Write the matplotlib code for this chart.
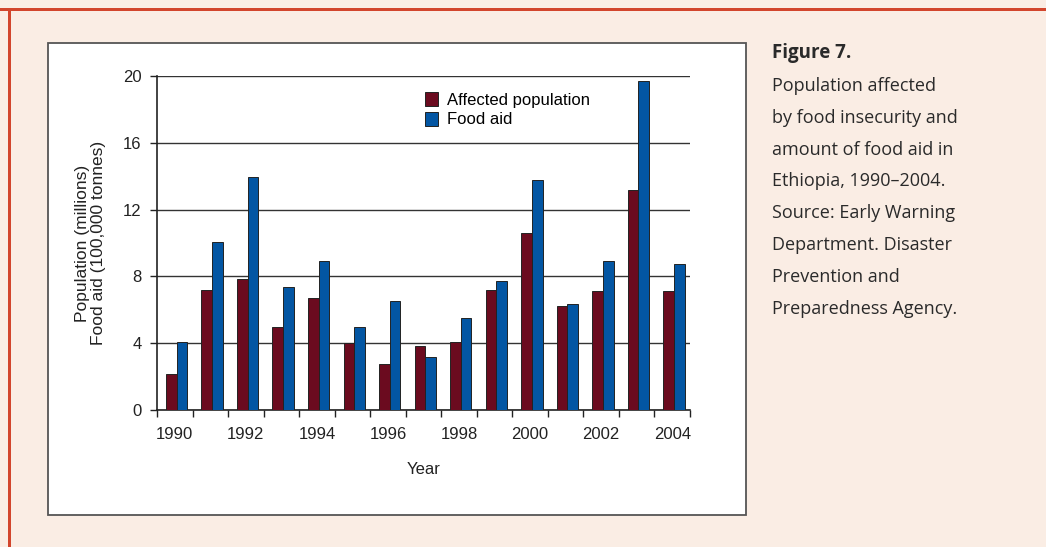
import matplotlib
matplotlib.use("Agg")
import matplotlib.pyplot as plt
from matplotlib.patches import Rectangle, Patch

years = list(range(1990, 2005))
affected = [2.15, 7.2, 7.85, 5.0, 6.7, 4.0, 2.75, 3.85, 4.05, 7.2, 10.6, 6.2, 7.15, 13.2, 7.15]
food_aid = [4.05, 10.05, 13.95, 7.35, 8.95, 5.0, 6.5, 3.15, 5.5, 7.75, 13.8, 6.35, 8.95, 19.7, 8.75]
y_ticks = [0, 4, 8, 12, 16, 20]
caption_title = "Figure 7."
caption_lines = [
    "Population affected",
    "by food insecurity and",
    "amount of food aid in",
    "Ethiopia, 1990\u20132004.",
    "Source: Early Warning",
    "Department. Disaster",
    "Prevention and",
    "Preparedness Agency.",
]

W, H = 1046, 547
RED = "#6b0b1f"
BLUE = "#0356a3"
BEIGE = "#faede4"

plt.rcParams['font.family'] = ['Liberation Sans', 'DejaVu Sans']

fig = plt.figure(figsize=(W / 100, H / 100), dpi=100, facecolor=BEIGE)

def px(x, y, w, h):
    # pixel box (top-left origin) -> figure fraction
    return [x / W, 1 - (y + h) / H, w / W, h / H]

# frame: red border top/left, white panel behind the axes
fig.patches.append(Rectangle((0, 1 - 10.5 / H), 1, 3 / H, transform=fig.transFigure,
                             facecolor="#d2452c", edgecolor="none", zorder=-2))
fig.patches.append(Rectangle((7.5 / W, 0), 3 / W, 1 - 7.5 / H, transform=fig.transFigure,
                             facecolor="#d2452c", edgecolor="none", zorder=-2))
b = px(48, 43, 698, 472)
fig.patches.append(Rectangle((b[0], b[1]), b[2], b[3], transform=fig.transFigure,
                             facecolor="white", edgecolor="#555555", linewidth=1.3, zorder=-1))

ax = fig.add_axes(px(157, 76, 533, 334))
ax.set_facecolor("none")
ax.set_zorder(2)

xs = list(range(len(years)))
ax.bar([x - 0.1 for x in xs], affected, width=0.3, color=RED, edgecolor="#222222", linewidth=0.7, zorder=3)
ax.bar([x + 0.2 for x in xs], food_aid, width=0.3, color=BLUE, edgecolor="#222222", linewidth=0.7, zorder=3)

ax.set_xlim(-0.5, len(years) - 0.5)
ax.set_ylim(0, 20)
ax.set_yticks(y_ticks)
ax.grid(axis="y", color="#333333", linewidth=1, zorder=0)
ax.tick_params(axis="y", direction="out", length=5, width=1, labelsize=12, pad=6, colors="#222222")

ax.set_xticks([x - 0.5 for x in xs] + [len(years) - 0.5])
ax.set_xticklabels([])
ax.set_xticks([x for x in xs if years[x] % 2 == 0], minor=True)
ax.set_xticklabels([str(years[x]) for x in xs if years[x] % 2 == 0], minor=True)
ax.tick_params(axis="x", which="major", direction="out", length=5, width=1, colors="#222222")
ax.tick_params(axis="x", which="minor", length=0, labelsize=12, pad=12, colors="#222222")

for s in ["top", "right"]:
    ax.spines[s].set_visible(False)
for s in ["left", "bottom"]:
    ax.spines[s].set_color("#222222")
    ax.spines[s].set_linewidth(1.2)

ax.set_ylabel("Population (millions)\nFood aid (100,000 tonnes)", fontsize=12.5, linespacing=1.15, color="#222222")
ax.yaxis.set_label_coords(-0.095, 0.5)
ax.set_xlabel("Year", fontsize=12, color="#222222")
ax.xaxis.set_label_coords(0.5, -0.155)

handles = [Patch(facecolor=RED, edgecolor="#222222", linewidth=0.7),
           Patch(facecolor=BLUE, edgecolor="#222222", linewidth=0.7)]
leg = fig.legend(handles, ["Affected population", "Food aid"], loc="upper left",
                 bbox_to_anchor=(425 / W, 1 - 92 / H), frameon=False, fontsize=12,
                 handlelength=0.8, handleheight=0.9, handletextpad=0.5, labelspacing=0.25,
                 borderpad=0, borderaxespad=0)
leg.set_zorder(5)

cap_font = ['Open Sans', 'DejaVu Sans']
fig.text(772 / W, 1 - 53 / H, caption_title, fontsize=13.5, fontweight="bold", family=cap_font,
         va="center", ha="left", color="#2a2a2a")
for i, line in enumerate(caption_lines):
    fig.text(772 / W, 1 - (86 + i * 31.8) / H, line, fontsize=13, family=cap_font,
             va="center", ha="left", color="#2a2a2a")

fig.savefig("out.png", dpi=100, facecolor=BEIGE)
